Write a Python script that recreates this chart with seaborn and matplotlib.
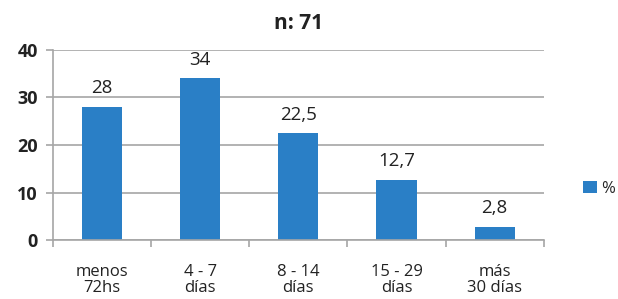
import pandas as pd
import seaborn as sns
import matplotlib.pyplot as plt
from matplotlib.ticker import FixedLocator

# data
categorias = ['menos\n72hs', '4 - 7\ndías', '8 - 14\ndías', '15 - 29\ndías', 'más\n30 días']
porcentajes = [28, 34, 22.5, 12.7, 2.8]
serie = '%'
titulo = 'n: 71'

df = pd.DataFrame({'categoria': categorias, 'valor': porcentajes, 'serie': serie})

sns.set_theme(style='white')
plt.rcParams['font.family'] = ['Open Sans', 'DejaVu Sans']

fig = plt.figure(figsize=(6.18, 2.99), dpi=100)
ax = fig.add_axes([0.0858, 0.197, 0.794, 0.636])

sns.barplot(data=df, x='categoria', y='valor', hue='serie', palette=['#2a7fc6'],
            saturation=1, width=0.41, linewidth=0, ax=ax, legend=True)

# value labels with decimal comma
for p, v in zip(ax.patches, porcentajes):
    txt = f'{v:g}'.replace('.', ',')
    ax.text(p.get_x() + p.get_width() / 2, v + 2.0, txt, ha='center', va='bottom',
            fontsize=13.5, color='#222222')

ax.set_ylim(0, 40)
ax.set_xlim(-0.5, len(categorias) - 0.5)
ax.set_yticks([0, 10, 20, 30, 40])
ax.yaxis.grid(True, color='#a6a6a6', linewidth=1.2)
ax.set_axisbelow(True)
for s in ['top', 'right']:
    ax.spines[s].set_visible(False)
for s in ['left', 'bottom']:
    ax.spines[s].set_color('#a6a6a6')
    ax.spines[s].set_linewidth(1.2)

ax.tick_params(axis='y', which='major', length=5, width=1.2, color='#a6a6a6',
               labelsize=13, pad=6, left=True)
for lbl in ax.get_yticklabels():
    lbl.set_fontweight('bold')
    lbl.set_color('#222222')

# ticks at category boundaries, labels centered
ax.xaxis.set_minor_locator(FixedLocator([i - 0.5 for i in range(len(categorias) + 1)]))
ax.tick_params(axis='x', which='minor', length=5, width=1.2, color='#a6a6a6', bottom=True)
ax.tick_params(axis='x', which='major', length=0, labelsize=12, pad=17, colors='#222222')
for lbl in ax.get_xticklabels():
    lbl.set_linespacing(1.05)

ax.set_xlabel('')
ax.set_ylabel('')
ax.set_title(titulo, fontsize=15, fontweight='bold', color='#222222', pad=15)

ax.legend(loc='center left', bbox_to_anchor=(1.05, 0.27), frameon=False, fontsize=12,
          handlelength=0.8, handleheight=0.8, handletextpad=0.3)

fig.savefig('out.png', dpi=100)
